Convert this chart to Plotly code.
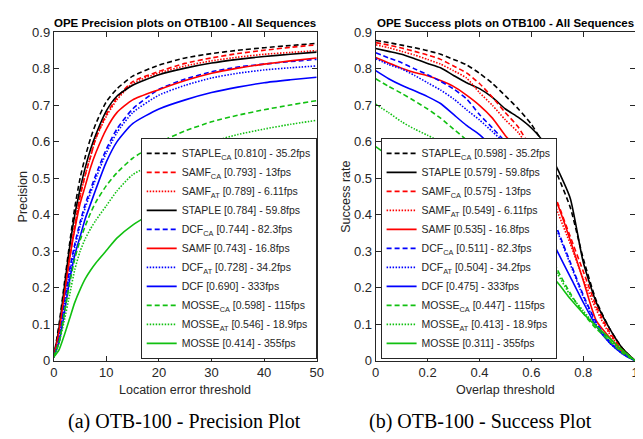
import plotly.graph_objects as go

# ---------------- data ----------------
trackers = ["STAPLE_CA", "STAPLE", "SAMF_CA", "SAMF_AT", "SAMF",
            "DCF_CA", "DCF_AT", "DCF", "MOSSE_CA", "MOSSE_AT", "MOSSE"]
labels = {"STAPLE_CA": "STAPLE<sub>CA</sub>", "STAPLE": "STAPLE",
          "SAMF_CA": "SAMF<sub>CA</sub>", "SAMF_AT": "SAMF<sub>AT</sub>", "SAMF": "SAMF",
          "DCF_CA": "DCF<sub>CA</sub>", "DCF_AT": "DCF<sub>AT</sub>", "DCF": "DCF",
          "MOSSE_CA": "MOSSE<sub>CA</sub>", "MOSSE_AT": "MOSSE<sub>AT</sub>", "MOSSE": "MOSSE"}
fps = {"STAPLE_CA": "35.2", "STAPLE": "59.8", "SAMF_CA": "13", "SAMF_AT": "6.11",
       "SAMF": "16.8", "DCF_CA": "82.3", "DCF_AT": "34.2", "DCF": "333",
       "MOSSE_CA": "115", "MOSSE_AT": "18.9", "MOSSE": "355"}
precision_score = {"STAPLE_CA": 0.810, "SAMF_CA": 0.793, "SAMF_AT": 0.789, "STAPLE": 0.784,
                   "DCF_CA": 0.744, "SAMF": 0.743, "DCF_AT": 0.728, "DCF": 0.690,
                   "MOSSE_CA": 0.598, "MOSSE_AT": 0.546, "MOSSE": 0.414}
success_score = {"STAPLE_CA": 0.598, "STAPLE": 0.579, "SAMF_CA": 0.575, "SAMF_AT": 0.549,
                 "SAMF": 0.535, "DCF_CA": 0.511, "DCF_AT": 0.504, "DCF": 0.475,
                 "MOSSE_CA": 0.447, "MOSSE_AT": 0.413, "MOSSE": 0.311}

# tick labels
prec_xticks = [0, 10, 20, 30, 40, 50]
succ_xticks = [0, 0.2, 0.4, 0.6, 0.8, 1]
succ_xticktext = ["0", "0.2", "0.4", "0.6", "0.8", "1"]
y_ticks = [0, 0.1, 0.2, 0.3, 0.4, 0.5, 0.6, 0.7, 0.8, 0.9]
y_ticktext = ["0", "0.1", "0.2", "0.3", "0.4", "0.5", "0.6", "0.7", "0.8", "0.9"]

# precision curves (location error threshold, px)
x_prec = [0, 1, 2, 3, 4, 5, 6, 7, 8, 10, 12, 15, 20, 25, 30, 35, 40, 45, 50]
prec_STAPLE_CA = [0.01, 0.10, 0.21, 0.32, 0.42, 0.50, 0.56, 0.61, 0.65, 0.71, 0.745, 0.78, 0.810, 0.830, 0.842, 0.851, 0.858, 0.864, 0.870]
prec_SAMF_CA   = [0.01, 0.08, 0.18, 0.28, 0.37, 0.45, 0.51, 0.56, 0.61, 0.675, 0.72, 0.765, 0.793, 0.815, 0.830, 0.842, 0.851, 0.859, 0.866]
prec_SAMF_AT   = [0.01, 0.08, 0.18, 0.28, 0.37, 0.45, 0.51, 0.56, 0.61, 0.67, 0.715, 0.76, 0.789, 0.808, 0.822, 0.832, 0.840, 0.845, 0.850]
prec_STAPLE    = [0.01, 0.09, 0.20, 0.31, 0.40, 0.47, 0.53, 0.58, 0.62, 0.685, 0.725, 0.755, 0.784, 0.802, 0.816, 0.826, 0.834, 0.840, 0.846]
prec_DCF_CA    = [0.01, 0.06, 0.16, 0.25, 0.32, 0.38, 0.43, 0.47, 0.51, 0.58, 0.635, 0.69, 0.744, 0.772, 0.792, 0.805, 0.813, 0.820, 0.826]
prec_SAMF      = [0.01, 0.08, 0.18, 0.28, 0.36, 0.43, 0.48, 0.53, 0.57, 0.635, 0.68, 0.715, 0.743, 0.768, 0.788, 0.802, 0.813, 0.822, 0.830]
prec_DCF_AT    = [0.01, 0.06, 0.15, 0.24, 0.31, 0.37, 0.42, 0.46, 0.50, 0.57, 0.625, 0.68, 0.728, 0.755, 0.775, 0.788, 0.797, 0.803, 0.808]
prec_DCF       = [0.01, 0.05, 0.13, 0.22, 0.29, 0.34, 0.39, 0.43, 0.47, 0.545, 0.60, 0.65, 0.690, 0.715, 0.735, 0.750, 0.762, 0.770, 0.777]
prec_MOSSE_CA  = [0.01, 0.05, 0.13, 0.21, 0.28, 0.33, 0.37, 0.405, 0.435, 0.48, 0.515, 0.555, 0.598, 0.630, 0.655, 0.673, 0.688, 0.701, 0.713]
prec_MOSSE_AT  = [0.01, 0.05, 0.11, 0.18, 0.25, 0.30, 0.335, 0.362, 0.385, 0.425, 0.465, 0.51, 0.546, 0.575, 0.600, 0.620, 0.635, 0.648, 0.659]
prec_MOSSE     = [0.01, 0.03, 0.07, 0.115, 0.16, 0.195, 0.225, 0.248, 0.268, 0.302, 0.336, 0.372, 0.414, 0.44, 0.46, 0.478, 0.495, 0.51, 0.524]

# success curves (overlap threshold)
x_succ = [0, 0.05, 0.1, 0.15, 0.2, 0.25, 0.3, 0.35, 0.4, 0.45, 0.5, 0.55, 0.6, 0.65, 0.7, 0.75, 0.8, 0.85, 0.9, 0.95, 1.0]
succ_STAPLE_CA = [0.878, 0.872, 0.865, 0.858, 0.850, 0.840, 0.826, 0.811, 0.788, 0.760, 0.726, 0.690, 0.648, 0.590, 0.51, 0.42, 0.28, 0.165, 0.09, 0.035, 0.0]
succ_STAPLE    = [0.856, 0.848, 0.840, 0.828, 0.815, 0.803, 0.782, 0.762, 0.746, 0.722, 0.690, 0.667, 0.638, 0.597, 0.527, 0.445, 0.27, 0.16, 0.09, 0.035, 0.0]
succ_SAMF_CA   = [0.872, 0.865, 0.857, 0.848, 0.838, 0.826, 0.808, 0.789, 0.760, 0.722, 0.680, 0.640, 0.580, 0.515, 0.435, 0.340, 0.245, 0.150, 0.080, 0.030, 0.0]
succ_SAMF_AT   = [0.866, 0.858, 0.848, 0.838, 0.826, 0.813, 0.795, 0.775, 0.735, 0.700, 0.660, 0.625, 0.572, 0.505, 0.41, 0.32, 0.225, 0.14, 0.075, 0.03, 0.0]
succ_SAMF      = [0.831, 0.816, 0.802, 0.790, 0.781, 0.768, 0.752, 0.728, 0.700, 0.665, 0.617, 0.580, 0.545, 0.490, 0.43, 0.33, 0.22, 0.11, 0.065, 0.025, 0.0]
succ_DCF_CA    = [0.844, 0.830, 0.817, 0.800, 0.784, 0.766, 0.745, 0.718, 0.675, 0.638, 0.600, 0.560, 0.515, 0.445, 0.36, 0.27, 0.18, 0.105, 0.055, 0.02, 0.0]
succ_DCF_AT    = [0.828, 0.812, 0.800, 0.782, 0.762, 0.742, 0.718, 0.688, 0.660, 0.628, 0.595, 0.555, 0.510, 0.440, 0.355, 0.265, 0.175, 0.10, 0.05, 0.02, 0.0]
succ_DCF       = [0.795, 0.773, 0.755, 0.740, 0.724, 0.705, 0.675, 0.645, 0.620, 0.585, 0.545, 0.50, 0.455, 0.375, 0.30, 0.23, 0.16, 0.095, 0.05, 0.02, 0.0]
succ_MOSSE_CA  = [0.773, 0.752, 0.733, 0.712, 0.690, 0.665, 0.635, 0.605, 0.570, 0.530, 0.500, 0.460, 0.418, 0.34, 0.25, 0.185, 0.13, 0.088, 0.055, 0.022, 0.0]
succ_MOSSE_AT  = [0.703, 0.680, 0.655, 0.635, 0.618, 0.600, 0.580, 0.560, 0.530, 0.500, 0.470, 0.435, 0.392, 0.31, 0.24, 0.18, 0.137, 0.095, 0.06, 0.025, 0.0]
succ_MOSSE     = [0.587, 0.562, 0.540, 0.510, 0.480, 0.450, 0.420, 0.390, 0.365, 0.340, 0.320, 0.300, 0.281, 0.25, 0.215, 0.17, 0.13, 0.095, 0.063, 0.03, 0.0]

prec_curves = {"STAPLE_CA": prec_STAPLE_CA, "SAMF_CA": prec_SAMF_CA, "SAMF_AT": prec_SAMF_AT,
               "STAPLE": prec_STAPLE, "DCF_CA": prec_DCF_CA, "SAMF": prec_SAMF, "DCF_AT": prec_DCF_AT,
               "DCF": prec_DCF, "MOSSE_CA": prec_MOSSE_CA, "MOSSE_AT": prec_MOSSE_AT, "MOSSE": prec_MOSSE}
succ_curves = {"STAPLE_CA": succ_STAPLE_CA, "STAPLE": succ_STAPLE, "SAMF_CA": succ_SAMF_CA,
               "SAMF_AT": succ_SAMF_AT, "SAMF": succ_SAMF, "DCF_CA": succ_DCF_CA, "DCF_AT": succ_DCF_AT,
               "DCF": succ_DCF, "MOSSE_CA": succ_MOSSE_CA, "MOSSE_AT": succ_MOSSE_AT, "MOSSE": succ_MOSSE}

# ---------------- style ----------------
W, H = 643, 439
base_color = {"STAPLE": "#000000", "SAMF": "#ff0000", "DCF": "#0000ff", "MOSSE": "#11c011"}
dash_style = {"CA": "5px,3px", "AT": "1.5px,1.5px", "": "solid"}
AX = "#262626"
FONT = "Liberation Sans, Arial, sans-serif"
SERIF = "Liberation Serif, Times New Roman, serif"

def style(t):
    parts = t.split("_")
    base = parts[0]
    var = parts[1] if len(parts) > 1 else ""
    return base_color[base], dash_style[var]

def fx(p):
    return p / W

def fy(p):
    return 1 - p / H

fig = go.Figure()

order_prec = sorted(trackers, key=lambda t: -precision_score[t])
order_succ = sorted(trackers, key=lambda t: -success_score[t])

for t in order_prec:
    c, d = style(t)
    fig.add_trace(go.Scatter(
        x=x_prec, y=prec_curves[t], mode="lines",
        line=dict(color=c, dash=d, width=1.6, shape="spline", smoothing=0.6),
        name=f"{labels[t]} [{precision_score[t]:.3f}] - {fps[t]}fps",
        xaxis="x", yaxis="y", legend="legend"))

for t in order_succ:
    c, d = style(t)
    fig.add_trace(go.Scatter(
        x=x_succ, y=succ_curves[t], mode="lines",
        line=dict(color=c, dash=d, width=1.6, shape="spline", smoothing=0.6),
        name=f"{labels[t]} [{success_score[t]:.3f}] - {fps[t]}fps",
        xaxis="x2", yaxis="y2", legend="legend2"))

axis_common = dict(showgrid=False, zeroline=False, showline=True, linecolor=AX, linewidth=1,
                   mirror="allticks", ticks="inside", ticklen=5, tickcolor=AX,
                   ticklabeloverflow="allow",
                   tickfont=dict(family=FONT, size=13, color=AX))

legend_common = dict(bgcolor="white", bordercolor=AX, borderwidth=1,
                     font=dict(family=FONT, size=10.5, color=AX),
                     itemwidth=30, tracegroupgap=0, yanchor="bottom")

fig.update_layout(
    width=W, height=H, margin=dict(l=0, r=0, t=0, b=0),
    paper_bgcolor="white", plot_bgcolor="white", showlegend=True,
    xaxis=dict(domain=[fx(42.5), fx(310)], range=[0, 50], tickvals=prec_xticks, anchor="y", **axis_common),
    yaxis=dict(domain=[fy(358), fy(18)], range=[0, 0.9], tickvals=y_ticks, ticktext=y_ticktext, anchor="x", **axis_common),
    xaxis2=dict(domain=[fx(370), fx(634)], range=[0, 1], tickvals=succ_xticks, ticktext=succ_xticktext, anchor="y2", **axis_common),
    yaxis2=dict(domain=[fy(358), fy(18)], range=[0, 0.9], tickvals=y_ticks, ticktext=y_ticktext, anchor="x2", **axis_common),
    legend=dict(x=fx(310), xanchor="right", y=fy(356), **legend_common),
    legend2=dict(x=fx(375), xanchor="left", y=fy(356), **legend_common),
)

ann = [
    dict(text="<b>OPE Precision plots on OTB100 - All Sequences</b>", x=fx(176), y=fy(8), size=11.5, color="#000000"),
    dict(text="<b>OPE Success plots on OTB100 - All Sequences</b>", x=fx(502), y=fy(8), size=11.5, color="#000000"),
    dict(text="Location error threshold", x=fx(176), y=fy(388), size=12.5, color=AX),
    dict(text="Overlap threshold", x=fx(502), y=fy(388), size=12.5, color=AX),
]
for a in ann:
    fig.add_annotation(text=a["text"], x=a["x"], y=a["y"], xref="paper", yref="paper",
                       showarrow=False, xanchor="center", yanchor="middle",
                       font=dict(family=FONT, size=a["size"], color=a["color"]))

fig.add_annotation(text="Precision", x=fx(11), y=fy(188), xref="paper", yref="paper", showarrow=False,
                   textangle=-90, xanchor="center", yanchor="middle", font=dict(family=FONT, size=12.5, color=AX))
fig.add_annotation(text="Success rate", x=fx(339), y=fy(188), xref="paper", yref="paper", showarrow=False,
                   textangle=-90, xanchor="center", yanchor="middle", font=dict(family=FONT, size=12.5, color=AX))

fig.add_annotation(text="(a) OTB-100 - Precision Plot", x=fx(175), y=fy(421), xref="paper", yref="paper",
                   showarrow=False, xanchor="center", yanchor="middle", font=dict(family=SERIF, size=20, color="#000000"))
fig.add_annotation(text="(b) OTB-100 - Success Plot", x=fx(477), y=fy(421), xref="paper", yref="paper",
                   showarrow=False, xanchor="center", yanchor="middle", font=dict(family=SERIF, size=20, color="#000000"))

fig.write_html("out.html")
